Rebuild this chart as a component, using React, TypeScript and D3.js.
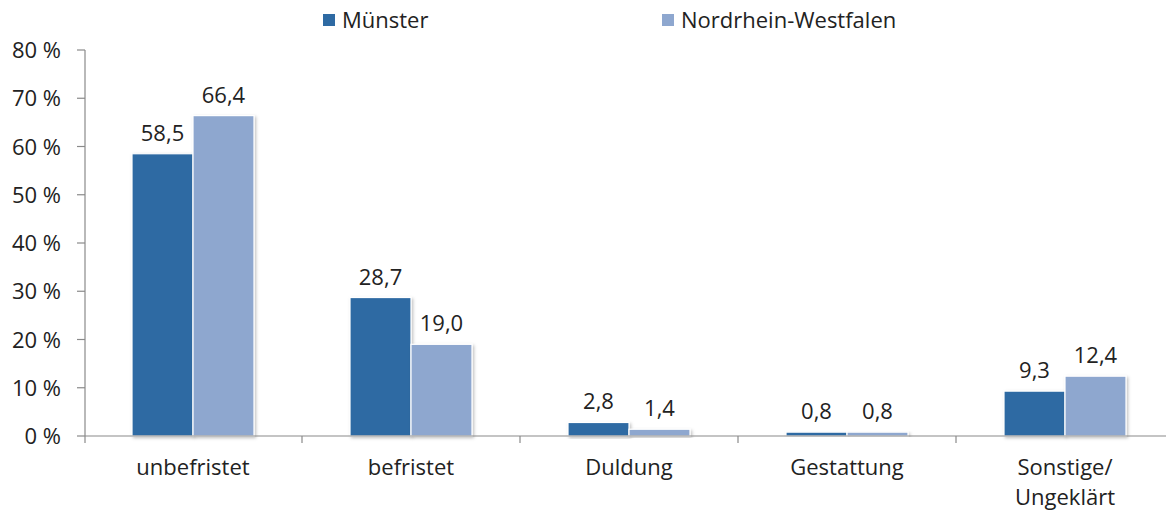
import React from "react";
import * as d3 from "d3";

const categories = ["unbefristet", "befristet", "Duldung", "Gestattung", "Sonstige/\nUngeklärt"];
const series = ["Münster", "Nordrhein-Westfalen"];
const muenster = [58.5, 28.7, 2.8, 0.8, 9.3];
const nrw = [66.4, 19.0, 1.4, 0.8, 12.4];
const yTicks = [0, 10, 20, 30, 40, 50, 60, 70, 80];
const colors = ["#2E6AA3", "#8EA7CF"];

const W = 1166;
const H = 513;
const FONT = "'Open Sans', sans-serif";
const TEXT = "#222222";
const AXIS = "#8a8a8a";

export default function App() {
  const x = d3.scaleBand<string>().domain(categories).range([84, 1174]).paddingInner(0).paddingOuter(0);
  const inner = d3.scaleBand<string>().domain(series).range([0, x.bandwidth()]).paddingInner(0).paddingOuter(0.787);
  const y = d3.scaleLinear().domain([0, 80]).range([436, 50]);
  const values = [muenster, nrw];
  const fmt = (v: number) => v.toFixed(1).replace(".", ",");
  const axisX = 85;
  const legendX = d3.scaleOrdinal<string, number>().domain(series).range([323, 662]);

  return (
    <svg width={W} height={H} style={{ position: "absolute", left: 0, top: 0, background: "#fff" }}>
      <defs>
        <filter id="sh" x="-20%" y="-20%" width="140%" height="140%">
          <feDropShadow dx="1.5" dy="1.5" stdDeviation="1.5" floodColor="#000" floodOpacity="0.25" />
        </filter>
      </defs>
      <rect width={W} height={H} fill="#fff" />
      {/* legend */}
      {series.map((s, i) => {
        const lx = legendX(s);
        return (
          <g key={s}>
            <rect x={lx} y={14} width={12} height={12} fill={colors[i]} />
            <text x={lx + 19} y={28} fontFamily={FONT} fontSize={22} fill={TEXT}>{s}</text>
          </g>
        );
      })}
      {/* y axis */}
      <line x1={axisX} x2={axisX} y1={y(80)} y2={443} stroke={AXIS} strokeWidth={1.2} />
      {yTicks.map((t) => (
        <g key={t}>
          <line x1={axisX - 8} x2={axisX} y1={y(t)} y2={y(t)} stroke={AXIS} strokeWidth={1.2} />
          <text x={61} y={y(t) + 8} textAnchor="end" fontFamily={FONT} fontSize={22} fill={TEXT}>{t} %</text>
        </g>
      ))}
      {/* bars */}
      {categories.map((c, ci) => (
        <g key={c}>
          {series.map((s, si) => {
            const v = values[si][ci];
            const bx = (x(c) as number) + (inner(s) as number);
            const bw = inner.bandwidth();
            const top = y(v);
            return (
              <g key={s}>
                <rect x={bx} y={top} width={bw} height={y(0) - top} fill={colors[si]} stroke="#fff" strokeWidth={1.2} filter="url(#sh)" />
                <text x={bx + bw / 2} y={top - 13} textAnchor="middle" fontFamily={FONT} fontSize={22} fill={TEXT}>{fmt(v)}</text>
              </g>
            );
          })}
        </g>
      ))}
      {/* x axis */}
      <line x1={axisX} x2={1174} y1={y(0)} y2={y(0)} stroke={AXIS} strokeWidth={1.2} />
      {categories.map((c, ci) => {
        const tx = (x(c) as number) + x.bandwidth();
        return <line key={"t" + ci} x1={tx} x2={tx} y1={y(0)} y2={y(0) + 7} stroke={AXIS} strokeWidth={1.2} />;
      })}
      {categories.map((c) => {
        const lines = c.split("\n");
        const cx = (x(c) as number) + x.bandwidth() / 2;
        return (
          <text key={"l" + c} x={cx} y={475} textAnchor="middle" fontFamily={FONT} fontSize={22} fill={TEXT}>
            {lines.map((ln, k) => (
              <tspan key={k} x={cx} dy={k === 0 ? 0 : 30}>{ln}</tspan>
            ))}
          </text>
        );
      })}
    </svg>
  );
}
